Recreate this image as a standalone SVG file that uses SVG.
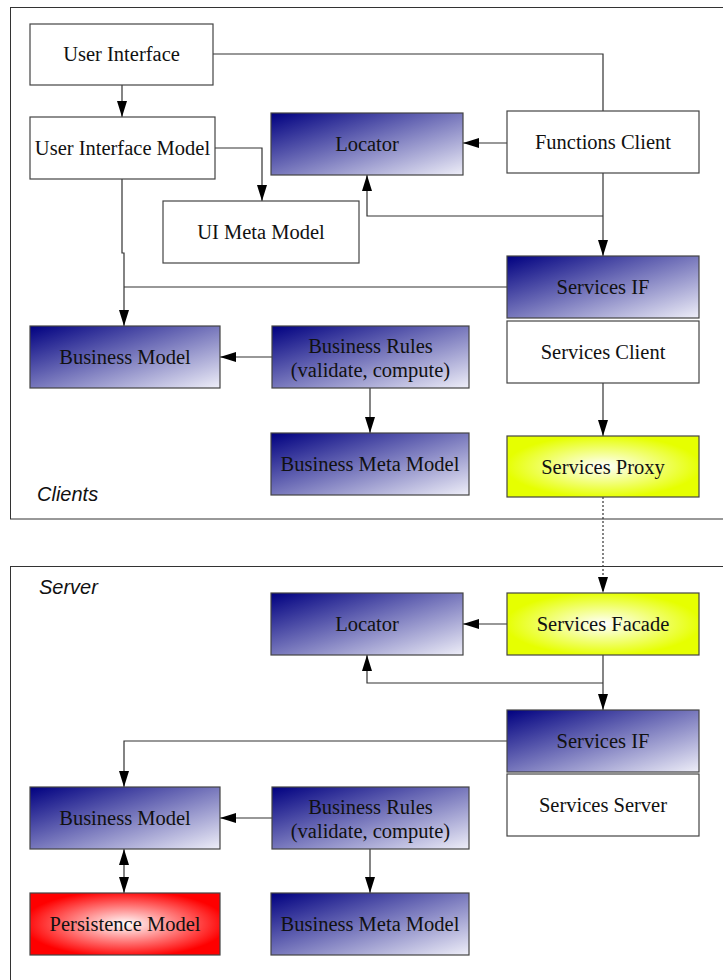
<svg xmlns="http://www.w3.org/2000/svg" width="723" height="980" viewBox="0 0 723 980">
<defs>
<linearGradient id="blue" x1="0" y1="0" x2="1" y2="1">
<stop offset="0" stop-color="#000080"/>
<stop offset="1" stop-color="#eeeef8"/>
</linearGradient>
<radialGradient id="yellow" cx="0.5" cy="0.5" r="0.6">
<stop offset="0" stop-color="#ffffff"/>
<stop offset="0.85" stop-color="#e6ff00"/>
<stop offset="1" stop-color="#e6ff00"/>
</radialGradient>
<radialGradient id="red" cx="0.5" cy="0.5" r="0.6">
<stop offset="0" stop-color="#ffffff"/>
<stop offset="0.9" stop-color="#ff0000"/>
<stop offset="1" stop-color="#ff0000"/>
</radialGradient>
<marker id="arr" markerWidth="16" markerHeight="10" refX="16" refY="5" orient="auto" markerUnits="userSpaceOnUse">
<path d="M0,0 L16,5 L0,10 Z" fill="#000"/>
</marker>
<marker id="arrs" markerWidth="16" markerHeight="10" refX="0" refY="5" orient="auto" markerUnits="userSpaceOnUse">
<path d="M16,0 L0,5 L16,10 Z" fill="#000"/>
</marker>
</defs>
<style>
.frame{fill:none;stroke:#333;stroke-width:1}
.box{stroke:#444;stroke-width:1.2}
.w{fill:#fff}
.b{fill:url(#blue)}
.y{fill:url(#yellow)}
.r{fill:url(#red)}
text{font-family:"Liberation Serif","Times New Roman",serif;font-size:20.5px;fill:#111;text-anchor:middle;dominant-baseline:central}
.lab{font-family:"Liberation Sans",Arial,sans-serif;font-style:italic;font-size:20px;text-anchor:start}
.c{fill:none;stroke:#333;stroke-width:1.2}
.dot{stroke-dasharray:2,2}
</style>
<rect class="frame" x="10.5" y="7.5" width="730" height="511.5"/>
<rect class="frame" x="10.5" y="566.5" width="730" height="430"/>
<text class="lab" x="37" y="494">Clients</text>
<text class="lab" x="39" y="587">Server</text>

<g id="connectors">
<path class="c" d="M122,85 V117" marker-end="url(#arr)"/>
<path class="c" d="M213,54 H603 V111"/>
<path class="c" d="M507,143 H463" marker-end="url(#arr)"/>
<path class="c" d="M215,148 H262 V201" marker-end="url(#arr)"/>
<path class="c" d="M603,173 V256" marker-end="url(#arr)"/>
<path class="c" d="M603,216 H367 V175" marker-end="url(#arr)"/>
<path class="c" d="M122,179 V253 H124 V326" marker-end="url(#arr)"/>
<path class="c" d="M507,287 H124"/>
<path class="c" d="M272,357 H220" marker-end="url(#arr)"/>
<path class="c" d="M370,388 V433" marker-end="url(#arr)"/>
<path class="c" d="M603,383 V436" marker-end="url(#arr)"/>
<path class="c dot" d="M603,497 V593" marker-end="url(#arr)"/>
<path class="c" d="M507,624 H463" marker-end="url(#arr)"/>
<path class="c" d="M603,655 V710" marker-end="url(#arr)"/>
<path class="c" d="M603,683 H367 V655" marker-end="url(#arr)"/>
<path class="c" d="M507,741 H124 V787" marker-end="url(#arr)"/>
<path class="c" d="M272,818 H220" marker-end="url(#arr)"/>
<path class="c" d="M370,849 V893" marker-end="url(#arr)"/>
<path class="c" d="M124,849 V893" marker-start="url(#arrs)" marker-end="url(#arr)"/>
</g>

<g id="user-interface"><rect class="box w" x="30" y="24" width="183" height="61"/><text x="121.5" y="54">User Interface</text></g>
<g id="user-interface-model"><rect class="box w" x="30" y="117" width="185" height="62"/><text x="122.5" y="148">User Interface Model</text></g>
<g id="locator-client"><rect class="box b" x="271" y="113" width="192" height="62"/><text x="367" y="144">Locator</text></g>
<g id="functions-client"><rect class="box w" x="507" y="111" width="192" height="62"/><text x="603" y="142">Functions Client</text></g>
<g id="ui-meta-model"><rect class="box w" x="163" y="201" width="196" height="62"/><text x="261" y="232">UI Meta Model</text></g>
<g id="services-if-client"><rect class="box b" x="507" y="256" width="192" height="62"/><text x="603" y="287">Services IF</text></g>
<g id="services-client"><rect class="box w" x="507" y="321" width="192" height="62"/><text x="603" y="352">Services Client</text></g>
<g id="business-model-client"><rect class="box b" x="30" y="326" width="190" height="62"/><text x="125" y="357">Business Model</text></g>
<g id="business-rules-client"><rect class="box b" x="272" y="326" width="197" height="62"/><text x="370.5" y="346">Business Rules</text><text x="370.5" y="370">(validate, compute)</text></g>
<g id="business-meta-model-client"><rect class="box b" x="271" y="433" width="198" height="62"/><text x="370" y="464">Business Meta Model</text></g>
<g id="services-proxy"><rect class="box y" x="507" y="436" width="192" height="61"/><text x="603" y="467">Services Proxy</text></g>

<g id="locator-server"><rect class="box b" x="271" y="593" width="192" height="62"/><text x="367" y="624">Locator</text></g>
<g id="services-facade"><rect class="box y" x="507" y="593" width="192" height="62"/><text x="603" y="624">Services Facade</text></g>
<g id="services-if-server"><rect class="box b" x="507" y="710" width="192" height="62"/><text x="603" y="741">Services IF</text></g>
<g id="services-server"><rect class="box w" x="507" y="774" width="192" height="62"/><text x="603" y="805">Services Server</text></g>
<g id="business-model-server"><rect class="box b" x="30" y="787" width="190" height="62"/><text x="125" y="818">Business Model</text></g>
<g id="business-rules-server"><rect class="box b" x="272" y="787" width="197" height="62"/><text x="370.5" y="807">Business Rules</text><text x="370.5" y="831">(validate, compute)</text></g>
<g id="persistence-model"><rect class="box r" x="30" y="893" width="190" height="62"/><text x="125" y="924">Persistence Model</text></g>
<g id="business-meta-model-server"><rect class="box b" x="271" y="893" width="198" height="62"/><text x="370" y="924">Business Meta Model</text></g>
</svg>
